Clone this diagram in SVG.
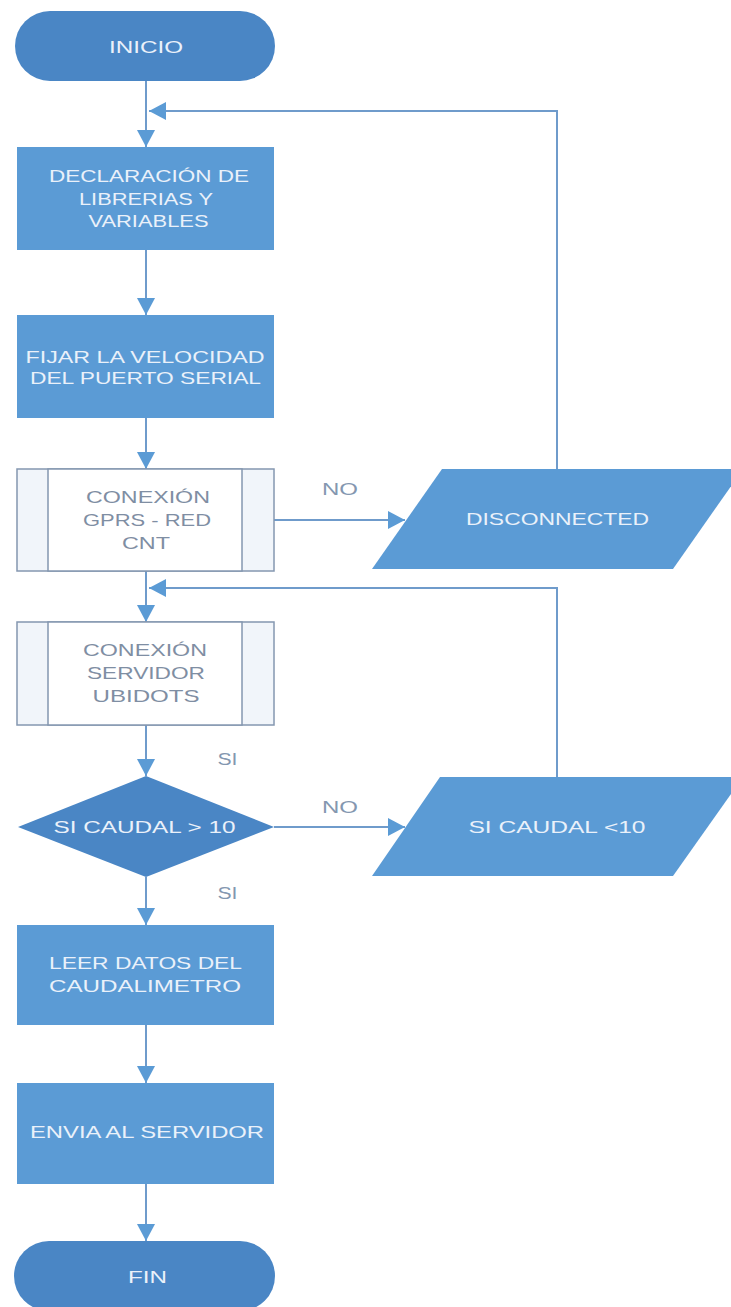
<svg xmlns="http://www.w3.org/2000/svg" width="731" height="1307" viewBox="0 0 731 1307">
<defs>
<marker id="ah" viewBox="0 0 10 10" refX="10" refY="5" markerUnits="userSpaceOnUse" markerWidth="17" markerHeight="18" orient="auto" preserveAspectRatio="none">
<path d="M0,0 L10,5 L0,10 z" fill="#5b9bd5"/>
</marker>
</defs>
<style>
.term{fill:#4a86c5}
.proc{fill:#5b9bd5}
.dec{fill:#4a86c5}
.io{fill:#5b9bd5}
.pp{fill:#ffffff;stroke:#8497b0;stroke-width:1.5}
.pps{fill:#f1f5fa;stroke:#8497b0;stroke-width:1.5}
.wt{font-family:"Liberation Sans",Arial,sans-serif;font-size:17px;fill:#eaf1fa;text-anchor:middle}
.gt{font-family:"Liberation Sans",Arial,sans-serif;font-size:17px;fill:#7f8ea3;text-anchor:middle}
.lb{font-family:"Liberation Sans",Arial,sans-serif;font-size:16px;fill:#8497b0;text-anchor:middle}
.c{fill:none;stroke:#6f9bcb;stroke-width:2}
</style>
<rect width="731" height="1307" fill="#ffffff"/>
<g id="connectors">
<path class="c" d="M146,81 V147" marker-end="url(#ah)"/>
<path class="c" d="M557,469 V111 H149" marker-end="url(#ah)"/>
<path class="c" d="M146,250 V315" marker-end="url(#ah)"/>
<path class="c" d="M146,418 V469" marker-end="url(#ah)"/>
<path class="c" d="M274,520 H405" marker-end="url(#ah)"/>
<path class="c" d="M146,571 V622" marker-end="url(#ah)"/>
<path class="c" d="M557,777 V588 H149" marker-end="url(#ah)"/>
<path class="c" d="M146,725 V776" marker-end="url(#ah)"/>
<path class="c" d="M274,827 H405" marker-end="url(#ah)"/>
<path class="c" d="M146,877 V925" marker-end="url(#ah)"/>
<path class="c" d="M146,1025 V1083" marker-end="url(#ah)"/>
<path class="c" d="M146,1184 V1241" marker-end="url(#ah)"/>
<text class="lb" x="340" y="495" textLength="36" lengthAdjust="spacingAndGlyphs">NO</text>
<text class="lb" x="227.5" y="765" textLength="20" lengthAdjust="spacingAndGlyphs">SI</text>
<text class="lb" x="340" y="813" textLength="36" lengthAdjust="spacingAndGlyphs">NO</text>
<text class="lb" x="227.5" y="899" textLength="20" lengthAdjust="spacingAndGlyphs">SI</text>
</g>
<g id="inicio">
<rect class="term" x="15" y="11" width="260" height="70" rx="35"/>
<text class="wt" x="146" y="53" textLength="74" lengthAdjust="spacingAndGlyphs">INICIO</text>
</g>
<g id="declaracion">
<rect class="proc" x="17" y="147" width="257" height="103"/>
<text class="wt" x="149" y="182" textLength="200" lengthAdjust="spacingAndGlyphs">DECLARACIÓN DE</text>
<text class="wt" x="146" y="205" textLength="134" lengthAdjust="spacingAndGlyphs">LIBRERIAS Y</text>
<text class="wt" x="148.5" y="227" textLength="120" lengthAdjust="spacingAndGlyphs">VARIABLES</text>
</g>
<g id="fijar">
<rect class="proc" x="17" y="315" width="257" height="103"/>
<text class="wt" x="145" y="363" textLength="239" lengthAdjust="spacingAndGlyphs">FIJAR LA VELOCIDAD</text>
<text class="wt" x="145.5" y="384" textLength="231" lengthAdjust="spacingAndGlyphs">DEL PUERTO SERIAL</text>
</g>
<g id="conexion-gprs">
<rect class="pps" x="17" y="469" width="257" height="102"/>
<rect class="pp" x="48" y="469" width="194" height="102"/>
<text class="gt" x="148" y="503" textLength="124" lengthAdjust="spacingAndGlyphs">CONEXIÓN</text>
<text class="gt" x="147" y="526" textLength="128" lengthAdjust="spacingAndGlyphs">GPRS - RED</text>
<text class="gt" x="146" y="549" textLength="48" lengthAdjust="spacingAndGlyphs">CNT</text>
</g>
<g id="disconnected">
<polygon class="io" points="442,469 743,469 673,569 372,569"/>
<text class="wt" x="557.5" y="525" textLength="183" lengthAdjust="spacingAndGlyphs">DISCONNECTED</text>
</g>
<g id="conexion-servidor">
<rect class="pps" x="17" y="622" width="257" height="103"/>
<rect class="pp" x="48" y="622" width="194" height="103"/>
<text class="gt" x="145" y="656" textLength="124" lengthAdjust="spacingAndGlyphs">CONEXIÓN</text>
<text class="gt" x="146" y="679" textLength="118" lengthAdjust="spacingAndGlyphs">SERVIDOR</text>
<text class="gt" x="146" y="702" textLength="107" lengthAdjust="spacingAndGlyphs">UBIDOTS</text>
</g>
<g id="decision">
<polygon class="dec" points="146,776 274,827 146,877 18,827"/>
<text class="wt" x="144.5" y="833" textLength="182" lengthAdjust="spacingAndGlyphs">SI CAUDAL &gt; 10</text>
</g>
<g id="caudal-menor">
<polygon class="io" points="440,777 743,777 673,876 372,876"/>
<text class="wt" x="557" y="833" textLength="177" lengthAdjust="spacingAndGlyphs">SI CAUDAL &lt;10</text>
</g>
<g id="leer">
<rect class="proc" x="17" y="925" width="257" height="100"/>
<text class="wt" x="145.5" y="969" textLength="193" lengthAdjust="spacingAndGlyphs">LEER DATOS DEL</text>
<text class="wt" x="145" y="992" textLength="192" lengthAdjust="spacingAndGlyphs">CAUDALIMETRO</text>
</g>
<g id="envia">
<rect class="proc" x="17" y="1083" width="257" height="101"/>
<text class="wt" x="147" y="1138" textLength="234" lengthAdjust="spacingAndGlyphs">ENVIA AL SERVIDOR</text>
</g>
<g id="fin">
<rect class="term" x="14" y="1241" width="261" height="70" rx="35"/>
<text class="wt" x="147.5" y="1283" textLength="39" lengthAdjust="spacingAndGlyphs">FIN</text>
</g>
</svg>
